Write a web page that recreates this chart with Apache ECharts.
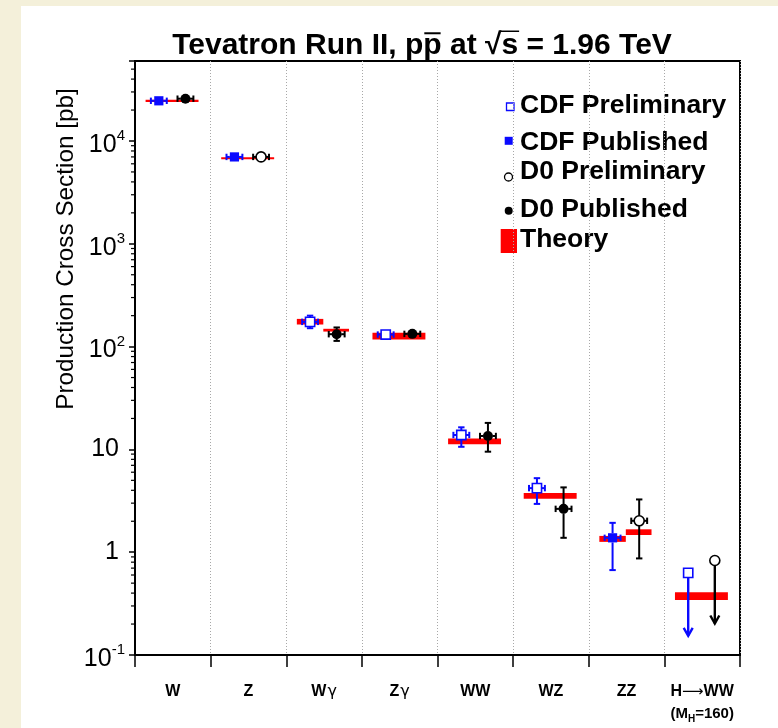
<!DOCTYPE html>
<html>
<head>
<meta charset="utf-8">
<script src="https://cdn.jsdelivr.net/npm/echarts@6/dist/echarts.min.js"></script>
<style>
  html, body { margin: 0; padding: 0; background: #f4f0da; }
  #chart { width: 778px; height: 728px; }
</style>
</head>
<body>
<div id="chart"></div>
<script>
// Processes on the x axis
const categories = ['W', 'Z', 'Wγ', 'Zγ', 'WW', 'WZ', 'ZZ', 'H→WW'];

// Measurements: [category index, cross section (pb), +error, -error]
const cdfPreliminary = [[2, 174, 26, 23], [3, 131, 10, 10], [4, 13.8, 2.6, 3.2], [5, 4.2, 1.05, 1.25]];
const cdfPublished = [[0, 24600, 1200, 1200], [1, 7000, 300, 300], [6, 1.38, 0.55, 0.71]];
const d0Preliminary = [[1, 7000, 300, 300], [6, 2.02, 1.24, 1.15]];
const d0Published = [[0, 25800, 1200, 1200], [2, 132, 21.5, 18.4], [3, 133, 10, 10], [4, 13.5, 4.6, 4.0], [5, 2.64, 1.63, 1.26]];

// Upper limits: [category index, limit (pb)]
const cdfLimits = [[7, 0.63]];
const d0Limits = [[7, 0.83]];

// Theory predictions: [category index, low, high]
const theoryShared = [[0, 24000, 25200], [1, 6650, 6950], [3, 117, 136], [4, 11.2, 12.8], [5, 3.31, 3.76], [7, 0.342, 0.407]];
const theoryCdf = [[2, 164, 186], [6, 1.26, 1.44]];
const theoryD0 = [[2, 140, 149], [6, 1.47, 1.67]];

// Axis range and text
const yMin = 0.1;
const yMax = 60000;
const titleText = 'Tevatron Run II, pp at √s = 1.96 TeV';
const yAxisTitle = 'Production Cross Section [pb]';
const legendLabels = ['CDF Preliminary', 'CDF Published', 'D0 Preliminary', 'D0 Published', 'Theory'];

// ---------------------------------------------------------------------------
const FONT = '"Liberation Sans", Arial, Helvetica, sans-serif';
const BLUE = '#0a0aff';
const BLACK = '#000000';
const RED = '#ff0000';
const GRID = { left: 135, top: 61, width: 605, height: 594 };
const CDF_DX = -0.185;
const D0_DX = 0.167;
const HALF = 4.6;

const chart = echarts.init(document.getElementById('chart'), null, { renderer: 'canvas' });

function markerShape(st, x, y) {
  const fill = st.filled ? st.color : '#ffffff';
  if (st.shape === 'square') {
    return { type: 'rect', shape: { x: x - HALF, y: y - HALF, width: 2 * HALF, height: 2 * HALF },
      style: { fill: fill, stroke: st.color, lineWidth: st.filled ? 0 : 1.6 }, z2: 5 };
  }
  return { type: 'circle', shape: { cx: x, cy: y, r: HALF + 0.4 },
    style: { fill: fill, stroke: st.color, lineWidth: st.filled ? 0 : 1.6 }, z2: 5 };
}

function pointRenderer(st) {
  return function (params, api) {
    const band = params.coordSys.width / categories.length;
    const cat = api.value(0), v = api.value(1), up = api.value(2), dn = api.value(3);
    const p = api.coord([cat, v]);
    const x = p[0] + st.dx * band, y = p[1];
    const yHi = api.coord([cat, v + up])[1];
    const yLo = api.coord([cat, v - dn])[1];
    const cap = 3.2;
    const ls = { stroke: st.color, lineWidth: 2 };
    const kids = [];
    const seg = (x1, y1, x2, y2) => kids.push({ type: 'line', shape: { x1, y1, x2, y2 }, style: ls });
    if (yHi < y - HALF) { seg(x, y - HALF, x, yHi); seg(x - cap, yHi, x + cap, yHi); }
    if (yLo > y + HALF) { seg(x, y + HALF, x, yLo); seg(x - cap, yLo, x + cap, yLo); }
    const xe = 0.105 * band;
    seg(x - xe, y, x - HALF, y); seg(x - xe, y - cap, x - xe, y + cap);
    seg(x + HALF, y, x + xe, y); seg(x + xe, y - cap, x + xe, y + cap);
    kids.push(markerShape(st, x, y));
    return { type: 'group', children: kids };
  };
}

function limitRenderer(st) {
  return function (params, api) {
    const band = params.coordSys.width / categories.length;
    const cat = api.value(0), v = api.value(1);
    const p = api.coord([cat, v]);
    const x = p[0] + st.dx * band, y = p[1];
    const yEnd = y + 63;
    const ls = { stroke: st.color, lineWidth: 2.4 };
    return { type: 'group', children: [
      { type: 'line', shape: { x1: x, y1: y + HALF, x2: x, y2: yEnd }, style: ls },
      { type: 'polyline', shape: { points: [[x - 4.5, yEnd - 8], [x, yEnd], [x + 4.5, yEnd - 8]] }, style: { stroke: st.color, lineWidth: 2.4, fill: null } },
      markerShape(st, x, y)
    ] };
  };
}

function theoryRenderer(a, b) {
  return function (params, api) {
    const band = params.coordSys.width / categories.length;
    const cat = api.value(0);
    const cx = api.coord([cat, api.value(1)])[0];
    let yTop = api.coord([cat, api.value(2)])[1];
    let yBot = api.coord([cat, api.value(1)])[1];
    if (yBot - yTop < 2) { const m = (yTop + yBot) / 2; yTop = m - 1; yBot = m + 1; }
    return { type: 'rect', shape: { x: cx + a * band, y: yTop, width: (b - a) * band, height: yBot - yTop },
      style: { fill: RED } };
  };
}

// log-scale minor tick positions (2..9 x 10^n) inside the axis range
const minorTicks = [];
for (let e = Math.floor(Math.log10(yMin)); e <= Math.ceil(Math.log10(yMax)); e++) {
  for (let k = 2; k <= 9; k++) {
    const v = k * Math.pow(10, e);
    if (v > yMin && v < yMax) minorTicks.push([0, v]);
  }
}

function minorTickRenderer(params, api) {
  const cs = params.coordSys;
  const y = api.coord([0, api.value(1)])[1];
  return { type: 'line', shape: { x1: cs.x - 4, y1: y, x2: cs.x, y2: y }, style: { stroke: BLACK, lineWidth: 1.2 } };
}

const stCdfPrel = { color: BLUE, shape: 'square', filled: false, dx: CDF_DX };
const stCdfPub = { color: BLUE, shape: 'square', filled: true, dx: CDF_DX };
const stD0Prel = { color: BLACK, shape: 'circle', filled: false, dx: D0_DX };
const stD0Pub = { color: BLACK, shape: 'circle', filled: true, dx: D0_DX };

// text metrics for title decorations
const mctx = document.createElement('canvas').getContext('2d');
const titleFont = 'bold 30px ' + FONT;
mctx.font = titleFont;
mctx.textBaseline = 'middle';
const tw = (s) => mctx.measureText(s).width;
const titleCx = 422, titleCy = 46;
const titleLeft = titleCx - tw(titleText) / 2;
const capTop = mctx.measureText('T').actualBoundingBoxAscent;
const pbarX = titleLeft + tw('Tevatron Run II, p');
const pbarW = tw('p');
const sqrtX = titleLeft + tw('Tevatron Run II, pp at ');
const sqrtW = tw('√');
const sqrtTop = mctx.measureText('√').actualBoundingBoxAscent;
const sW = tw('s');

const legendFont = 'bold 26.5px ' + FONT;
const legendRows = [106, 143, 172, 210, 240];
const legendMarkers = [
  { type: 'rect', shape: { x: 506.5, y: 103, width: 7.5, height: 7.5 }, style: { fill: '#fff', stroke: BLUE, lineWidth: 1.3 } },
  { type: 'rect', shape: { x: 504.7, y: 136.8, width: 8, height: 8 }, style: { fill: BLUE } },
  { type: 'circle', shape: { cx: 508.5, cy: 177, r: 4 }, style: { fill: '#fff', stroke: BLACK, lineWidth: 1.3 } },
  { type: 'circle', shape: { cx: 508.7, cy: 210.7, r: 4 }, style: { fill: BLACK } },
  { type: 'rect', shape: { x: 500.7, y: 229, width: 16.3, height: 24 }, style: { fill: RED } }
];

const graphics = [
  { type: 'rect', z: -10, shape: { x: 21, y: 6, width: 757, height: 722 }, style: { fill: '#ffffff' }, silent: true },
  { type: 'text', x: titleCx, y: titleCy, style: { text: titleText, font: titleFont, fill: BLACK, align: 'center', verticalAlign: 'middle' } },
  { type: 'line', shape: { x1: pbarX + 1, y1: titleCy - capTop - 1, x2: pbarX + pbarW - 1, y2: titleCy - capTop - 1 }, style: { stroke: BLACK, lineWidth: 2 } },
  { type: 'line', shape: { x1: sqrtX + sqrtW - 1.5, y1: titleCy - sqrtTop + 1, x2: sqrtX + sqrtW + sW + 1, y2: titleCy - sqrtTop + 1 }, style: { stroke: BLACK, lineWidth: 1.5 } },
  { type: 'text', x: 66, y: 249, rotation: Math.PI / 2, style: { text: yAxisTitle, font: '24.3px ' + FONT, fill: BLACK, align: 'center', verticalAlign: 'middle' } }
];
legendLabels.forEach((label, i) => {
  graphics.push(legendMarkers[i]);
  graphics.push({ type: 'text', x: 520, y: legendRows[i], style: { text: label, font: legendFont, fill: BLACK, align: 'left', verticalAlign: 'middle' } });
});

function pointSeries(name, data, st) {
  return { name: name, type: 'custom', data: data, renderItem: pointRenderer(st), encode: { x: 0, y: 1 }, z: 4, clip: false };
}
function limitSeries(name, data, st) {
  return { name: name, type: 'custom', data: data, renderItem: limitRenderer(st), encode: { x: 0, y: 1 }, z: 4, clip: false };
}
function theorySeries(name, data, a, b) {
  return { name: name, type: 'custom', data: data, renderItem: theoryRenderer(a, b), encode: { x: 0, y: [1, 2] }, z: 3, clip: false };
}

const boldLabel = { fontFamily: FONT, fontWeight: 'bold', fontSize: 16, lineHeight: 22, color: BLACK };
const option = {
  animation: false,
  backgroundColor: '#f4f0da',
  textStyle: { fontFamily: FONT },
  grid: { left: GRID.left, top: GRID.top, width: GRID.width, height: GRID.height, show: true,
    borderColor: BLACK, borderWidth: 2, backgroundColor: 'transparent', containLabel: false },
  graphic: graphics,
  xAxis: {
    type: 'category',
    data: categories,
    boundaryGap: true,
    axisLine: { show: true, lineStyle: { color: BLACK, width: 2 } },
    axisTick: { show: true, inside: false, length: 12, lineStyle: { color: BLACK, width: 1.5 } },
    splitLine: { show: true, lineStyle: { color: '#a8a8a8', width: 1, type: [1, 2] } },
    axisLabel: {
      interval: 0, margin: 26, color: BLACK, fontFamily: FONT, fontWeight: 'bold', fontSize: 16, lineHeight: 22,
      formatter: (v) => {
        if (v === 'H→WW') return '{b|H}{ar|⟶}{b|WW}\n{m|(M}{sub|H}{m|=160)}';
        const g = v.indexOf('γ');
        if (g >= 0) return '{b|' + v.slice(0, g) + '}{g|γ}';
        return '{b|' + v + '}';
      },
      rich: {
        b: boldLabel,
        g: { fontFamily: '"DejaVu Sans", sans-serif', fontWeight: 'normal', fontSize: 16, lineHeight: 22, color: BLACK, padding: [0, 0, 0, 1] },
        ar: { fontFamily: '"DejaVu Sans", sans-serif', fontWeight: 'normal', fontSize: 15, lineHeight: 22, color: BLACK },
        m: { fontFamily: FONT, fontWeight: 'bold', fontSize: 15, lineHeight: 22, color: BLACK },
        sub: { fontFamily: FONT, fontWeight: 'bold', fontSize: 10, lineHeight: 22, color: BLACK, padding: [10, 0, 0, 0] }
      }
    }
  },
  yAxis: {
    type: 'log',
    logBase: 10,
    min: yMin,
    max: yMax,
    axisLine: { show: true, lineStyle: { color: BLACK, width: 2 } },
    axisTick: { show: true, inside: false, length: 6, lineStyle: { color: BLACK, width: 1.5 } },
    splitLine: { show: false },
    axisLabel: {
      margin: 10, color: BLACK,
      formatter: (v) => {
        const e = Math.round(Math.log10(v));
        if (Math.abs(v - Math.pow(10, e)) > 1e-6 * Math.pow(10, e)) return '';
        if (e === 0) return '{n|1}';
        if (e === 1) return '{n|10}';
        return '{p|10}{sup|' + e + '}';
      },
      rich: {
        n: { fontFamily: FONT, fontSize: 25, color: BLACK, padding: [0, 6, 0, 0] },
        p: { fontFamily: FONT, fontSize: 25, color: BLACK, padding: [8, 0, 0, 0] },
        sup: { fontFamily: FONT, fontSize: 15, color: BLACK, padding: [0, 0, 10, 0] }
      }
    }
  },
  series: [
    { name: 'minor ticks', type: 'custom', data: minorTicks, renderItem: minorTickRenderer, encode: { x: 0, y: 1 }, z: 5, clip: false, silent: true },
    theorySeries('Theory', theoryShared, -0.36, 0.34),
    theorySeries('Theory CDF', theoryCdf, -0.36, -0.01),
    theorySeries('Theory D0', theoryD0, -0.01, 0.33),
    pointSeries('CDF Preliminary', cdfPreliminary, stCdfPrel),
    pointSeries('CDF Published', cdfPublished, stCdfPub),
    pointSeries('D0 Preliminary', d0Preliminary, stD0Prel),
    pointSeries('D0 Published', d0Published, stD0Pub),
    limitSeries('CDF Limit', cdfLimits, stCdfPrel),
    limitSeries('D0 Limit', d0Limits, stD0Prel)
  ]
};

chart.setOption(option);
</script>
</body>
</html>
